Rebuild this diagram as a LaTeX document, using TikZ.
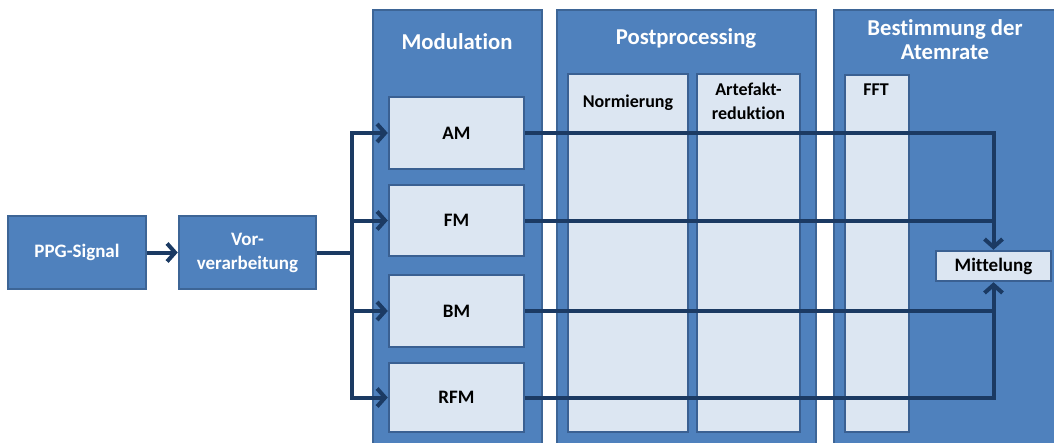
\documentclass[tikz,border=0pt]{standalone}
\usepackage{fontspec}
\setmainfont[Ligatures=NoCommon]{Carlito}
\usetikzlibrary{arrows.meta}
\definecolor{panelfill}{HTML}{4F81BD}
\definecolor{paneledge}{HTML}{3D6596}
\definecolor{boxfill}{HTML}{DCE6F2}
\definecolor{boxedge}{HTML}{3A6092}
\definecolor{wire}{HTML}{1B3A63}
\begin{document}
\begin{tikzpicture}[x=1pt,y=-1pt,
  panel/.style={draw=paneledge, fill=panelfill, line width=2.5pt, inner sep=0pt},
  darkbox/.style={draw=paneledge, fill=panelfill, line width=2.5pt, inner sep=0pt,
    text=white, font=\bfseries\fontsize{19}{24}\selectfont, align=center},
  lightbox/.style={draw=boxedge, fill=boxfill, line width=2.5pt, inner sep=0pt,
    text=black, font=\bfseries\fontsize{19}{24}\selectfont, align=center},
  title/.style={text=white, font=\bfseries\fontsize{22.7}{24}\selectfont, align=center, inner sep=0pt},
  collabel/.style={text=black, font=\bfseries\fontsize{18}{24}\selectfont, align=center, inner sep=0pt},
  wireline/.style={draw=wire, line width=4pt},
  flow/.style={wireline, -{Straight Barb[length=8pt,width=18pt]}}]
\clip (0,0) rectangle (1054,442);

% input stage
\node[darkbox, minimum width=138pt, minimum height=73pt] (ppg) at (77,252.5) {PPG-Signal};
\node[darkbox, minimum width=137pt, minimum height=73pt] (vor) at (247.5,252.5) {Vor-\\verarbeitung};

% processing panels
\node[panel, minimum width=169pt, minimum height=460pt] (modp) at (457.5,240) {};
\node[panel, minimum width=259pt, minimum height=460pt] (postp) at (686.5,240) {};
\node[panel, minimum width=246pt, minimum height=460pt] (bestp) at (957,240) {};

\node[title] (modt) at (457,42) {Modulation};
\node[title] (postt) at (686,38) {Postprocessing};
\node[title] (bestt) at (945,40) {Bestimmung der\\Atemrate};

% columns
\node[lightbox, minimum width=120pt, minimum height=358pt] (norm) at (628,253) {};
\node[lightbox, minimum width=103pt, minimum height=358pt] (art) at (748.5,253) {};
\node[lightbox, minimum width=64pt, minimum height=357pt] (fft) at (877,253.5) {};
\node[collabel] (normt) at (628,103) {Normierung};
\node[collabel] (artt) at (748.5,101) {Artefakt-\\reduktion};
\node[collabel] (fftt) at (876,90) {FFT};

% modulation blocks
\node[lightbox, minimum width=135pt, minimum height=72pt] (am) at (456.5,133) {AM};
\node[lightbox, minimum width=135pt, minimum height=71pt] (fm) at (456.5,220.5) {FM};
\node[lightbox, minimum width=135pt, minimum height=72pt] (bm) at (456.5,311) {BM};
\node[lightbox, minimum width=135pt, minimum height=69pt] (rfm) at (456.5,397.5) {RFM};

\node[lightbox, minimum width=115pt, minimum height=30pt] (mit) at (993.5,266) {Mittelung};

% connectors
\coordinate (junc) at (352,253);
\draw[flow] (ppg.east) -- (vor.west);
\draw[wireline] (vor.east) -- (vor.east -| junc);
\draw[flow] (junc) |- (am.west);
\draw[flow] (junc) |- (fm.west);
\draw[flow] (junc) |- (bm.west);
\draw[flow] (junc) |- (rfm.west);
\draw[flow] (am.east) -| (mit.north);
\draw[flow] (rfm.east) -| (mit.south);
\draw[wireline] (fm.east) -- (fm.east -| mit.north);
\draw[wireline] (bm.east) -- (bm.east -| mit.north);
\end{tikzpicture}
\end{document}
